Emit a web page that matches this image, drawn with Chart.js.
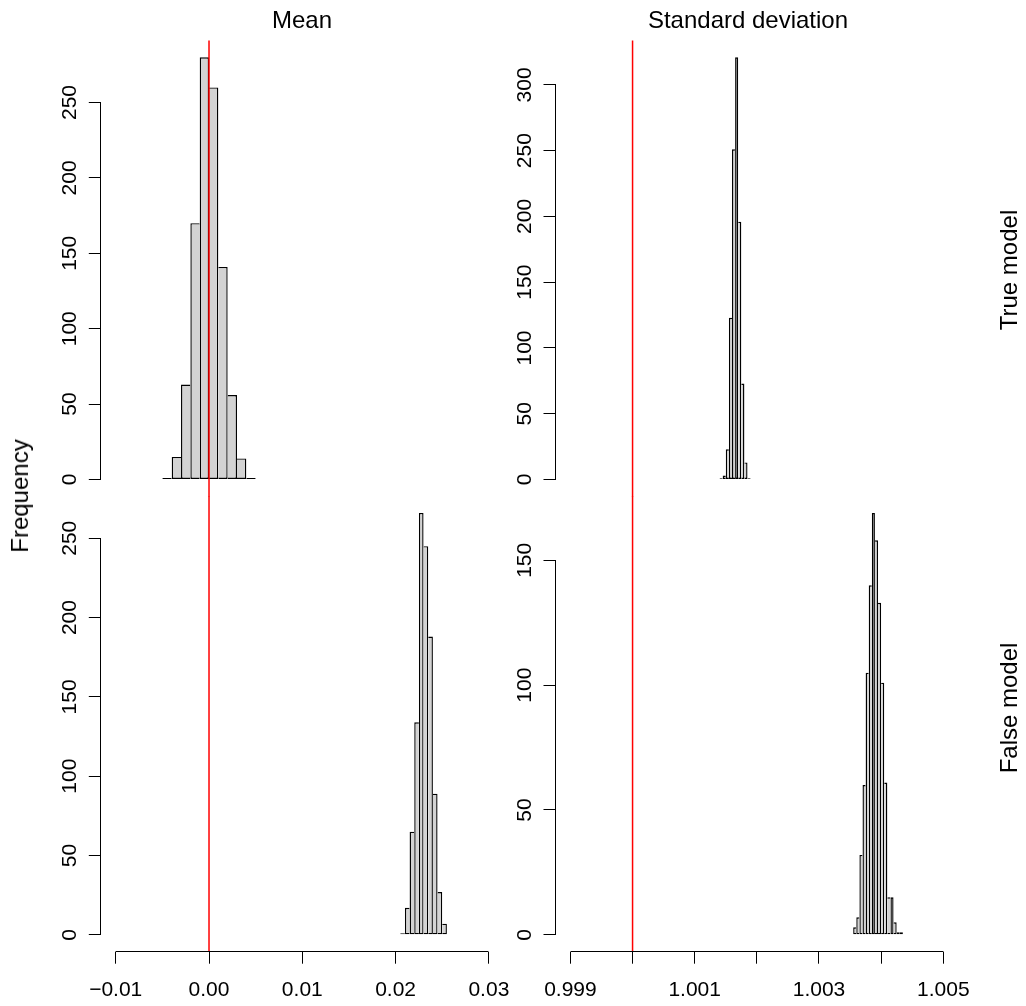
<!DOCTYPE html>
<html>
<head>
<meta charset="utf-8">
<script src="https://cdn.jsdelivr.net/npm/chart.js@4.4.1/dist/chart.umd.min.js"></script>
<style>
  body { margin: 0; background: #fff; }
  #page { position: relative; width: 1026px; height: 1006px; overflow: hidden; font-family: "Liberation Sans", Arial, sans-serif; }
  #page canvas { position: absolute; left: 0; top: 0; }
  .lbl { position: absolute; font-size: 24px; color: #000; white-space: nowrap; transform: translate(-50%, -50%); }
  .rot { transform: translate(-50%, -50%) rotate(-90deg); }
</style>
</head>
<body>
<div id="page">
  <canvas id="meanTrue" width="1026" height="1006"></canvas>
  <canvas id="sdTrue" width="1026" height="1006"></canvas>
  <canvas id="meanFalse" width="1026" height="1006"></canvas>
  <canvas id="sdFalse" width="1026" height="1006"></canvas>
  <div class="lbl" style="left:302px; top:20px;">Mean</div>
  <div class="lbl" style="left:748px; top:20px;">Standard deviation</div>
  <div class="lbl rot" style="left:20px; top:496px;">Frequency</div>
  <div class="lbl rot" style="left:1009px; top:270px;">True model</div>
  <div class="lbl rot" style="left:1009px; top:708px;">False model</div>
</div>
<script>
// histogrammes : bornes des classes et effectifs
const meanTrueBreaks = [-0.005, -0.004, -0.003, -0.002, -0.001, 0, 0.001, 0.002, 0.003, 0.004, 0.005];
const meanTrueCounts = [1, 15, 63, 170, 280, 260, 141, 56, 14, 1];

const sdTrueBreaks = [1.0014, 1.00145, 1.0015, 1.00155, 1.0016, 1.00165, 1.0017, 1.00175, 1.0018, 1.00185, 1.0019];
const sdTrueCounts = [1, 3, 23, 123, 251, 321, 196, 73, 13, 1];

const meanFalseBreaks = [0.0205, 0.021, 0.0215, 0.022, 0.0225, 0.023, 0.0235, 0.024, 0.0245, 0.025, 0.0255];
const meanFalseCounts = [1, 17, 65, 134, 266, 245, 188, 89, 27, 7];

const sdFalseBreaks = [1.00355, 1.0036, 1.00365, 1.0037, 1.00375, 1.0038, 1.00385, 1.0039, 1.00395, 1.004,
  1.00405, 1.0041, 1.00415, 1.0042, 1.00425, 1.0043, 1.00435];
const sdFalseCounts = [3, 7, 32, 60, 105, 140, 169, 158, 133, 101, 61, 15, 15, 5, 1, 1];

// axes
const meanXTicks = [-0.01, 0, 0.01, 0.02, 0.03];
const meanXLabels = ["\u22120.01", "0.00", "0.01", "0.02", "0.03"];
const sdXTicks = [0.999, 1.000, 1.001, 1.002, 1.003, 1.004, 1.005];
const sdXLabels = ["0.999", "", "1.001", "", "1.003", "", "1.005"];

const meanTrueYTicks = [0, 50, 100, 150, 200, 250];
const sdTrueYTicks = [0, 50, 100, 150, 200, 250, 300];
const meanFalseYTicks = [0, 50, 100, 150, 200, 250];
const sdFalseYTicks = [0, 50, 100, 150];

// vraies valeurs (lignes rouges)
const trueMean = 0;
const trueSd = 1;

const W = 1026, H = 1006;
const FONT = '"Liberation Sans", Arial, sans-serif';
Chart.defaults.font.family = FONT;

function align(p) {
  return Math.round(p - 0.5) + 0.5;
}

// dessine les axes a la maniere de R + la ligne rouge
const rAxes = {
  id: 'rAxes',
  afterDatasetsDraw(chart, args, opts) {
    const { ctx, chartArea } = chart;
    const x = chart.scales.x;
    const y = chart.scales.y;
    ctx.save();

    const rx = x.getPixelForValue(opts.refValue);
    ctx.strokeStyle = '#ff0000';
    ctx.lineWidth = 1.5;
    ctx.beginPath();
    ctx.moveTo(rx, chartArea.top);
    ctx.lineTo(rx, chartArea.bottom);
    ctx.stroke();

    ctx.strokeStyle = '#000';
    ctx.lineWidth = 1;
    const yt = opts.yTicks;
    const ax = align(chartArea.left);
    ctx.beginPath();
    ctx.moveTo(ax, align(y.getPixelForValue(yt[0])));
    ctx.lineTo(ax, align(y.getPixelForValue(yt[yt.length - 1])));
    ctx.stroke();

    ctx.fillStyle = '#000';
    ctx.font = '21px ' + FONT;
    ctx.textAlign = 'center';
    ctx.textBaseline = 'alphabetic';
    yt.forEach(v => {
      ctx.save();
      ctx.translate(chartArea.left - 25, y.getPixelForValue(v));
      ctx.rotate(-Math.PI / 2);
      ctx.fillText(String(v), 0, 0);
      ctx.restore();
    });

    if (opts.showX) {
      const xt = opts.xTicks;
      const by = align(chartArea.bottom);
      ctx.beginPath();
      ctx.moveTo(align(x.getPixelForValue(xt[0])), by);
      ctx.lineTo(align(x.getPixelForValue(xt[xt.length - 1])), by);
      ctx.stroke();
    }
    ctx.restore();
  }
};

function makePanel(id, breaks, counts, xTicks, xLabels, yTicks, refValue, box, showX) {
  const bars = counts.map((c, i) => ({ x: (breaks[i] + breaks[i + 1]) / 2, y: c }));
  const top = Math.max(...counts);
  const xlo = xTicks[0], xhi = xTicks[xTicks.length - 1];
  const xpad = (xhi - xlo) * 0.04;

  return new Chart(document.getElementById(id), {
    type: 'bar',
    data: {
      datasets: [{
        data: bars,
        backgroundColor: '#d3d3d3',
        borderColor: '#000',
        borderSkipped: false,
        inflateAmount: 0,
        barPercentage: 1,
        categoryPercentage: 1,
        borderWidth: function (ctx) {
          const i = ctx.dataIndex;
          if (i === undefined) return 1.4;
          return {
            top: 1.4, bottom: 1.4,
            left: (i === 0 || counts[i] >= counts[i - 1]) ? 1.4 : 0,
            right: (i === counts.length - 1 || counts[i] > counts[i + 1]) ? 1.4 : 0
          };
        }
      }]
    },
    plugins: [rAxes],
    options: {
      responsive: false,
      animation: false,
      events: [],
      layout: {
        padding: { left: box.l - 70, top: box.t, right: W - box.r, bottom: showX ? 0 : H - box.b }
      },
      plugins: {
        legend: { display: false },
        tooltip: { enabled: false },
        rAxes: { refValue: refValue, yTicks: yTicks, xTicks: xTicks, showX: showX }
      },
      scales: {
        x: {
          type: 'linear',
          display: showX,
          min: xlo - xpad,
          max: xhi + xpad,
          offset: false,
          afterBuildTicks: s => { s.ticks = xTicks.map(v => ({ value: v })); },
          afterFit: s => { if (showX) s.height = H - box.b; },
          border: { display: false },
          grid: { offset: false, drawOnChartArea: false, drawTicks: true, tickLength: 12, color: '#000', lineWidth: 1 },
          ticks: {
            autoSkip: false, maxRotation: 0, minRotation: 0, padding: 14,
            color: '#000', font: { size: 21 },
            callback: (v, i) => xLabels[i]
          }
        },
        y: {
          min: -0.04 * top,
          max: 1.04 * top,
          afterBuildTicks: s => { s.ticks = yTicks.map(v => ({ value: v })); },
          afterFit: s => { s.width = 70; },
          border: { display: false },
          grid: { offset: false, drawOnChartArea: false, drawTicks: true, tickLength: 12, color: '#000', lineWidth: 1 },
          ticks: { display: false }
        }
      }
    }
  });
}

const leftCol = { l: 100.8, r: 503.8 };
const rightCol = { l: 555.5, r: 958.2 };
const topRow = { t: 40.4, b: 496.4 };
const botRow = { t: 496, b: 951.7 };

makePanel('meanTrue', meanTrueBreaks, meanTrueCounts, meanXTicks, meanXLabels, meanTrueYTicks, trueMean,
  { l: leftCol.l, r: leftCol.r, t: topRow.t, b: topRow.b }, false);
makePanel('sdTrue', sdTrueBreaks, sdTrueCounts, sdXTicks, sdXLabels, sdTrueYTicks, trueSd,
  { l: rightCol.l, r: rightCol.r, t: topRow.t, b: topRow.b }, false);
makePanel('meanFalse', meanFalseBreaks, meanFalseCounts, meanXTicks, meanXLabels, meanFalseYTicks, trueMean,
  { l: leftCol.l, r: leftCol.r, t: botRow.t, b: botRow.b }, true);
makePanel('sdFalse', sdFalseBreaks, sdFalseCounts, sdXTicks, sdXLabels, sdFalseYTicks, trueSd,
  { l: rightCol.l, r: rightCol.r, t: botRow.t, b: botRow.b }, true);
</script>
</body>
</html>
